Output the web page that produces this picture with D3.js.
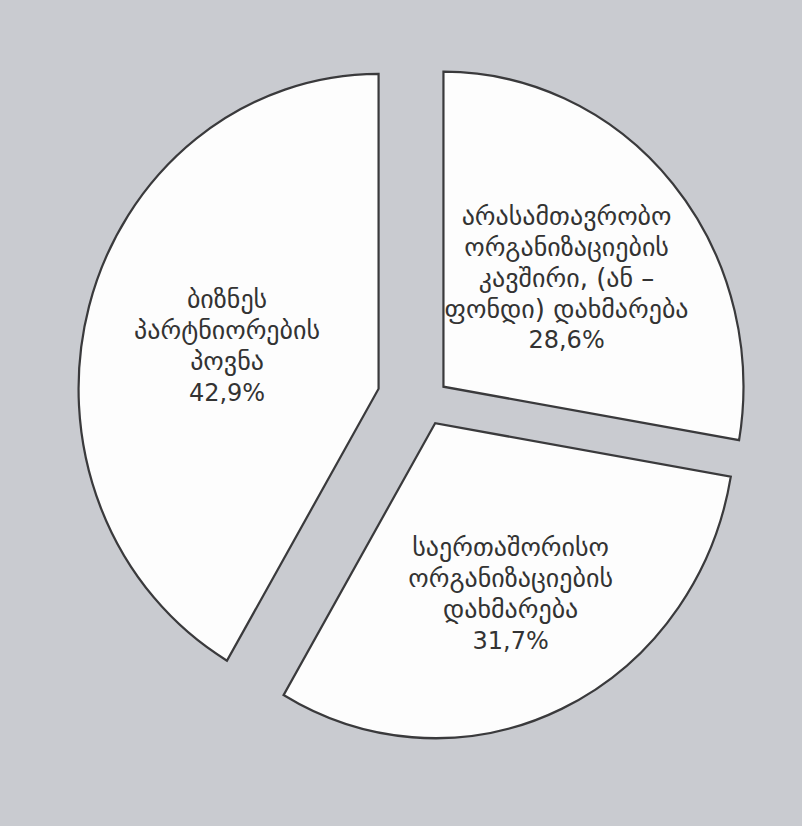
<!DOCTYPE html>
<html>
<head>
<meta charset="utf-8">
<script src="https://cdn.jsdelivr.net/npm/d3@7"></script>
<style>
  html, body { margin: 0; padding: 0; background: #c9cbd0; }
  svg { display: block; }
</style>
</head>
<body>
<svg id="chart" width="802" height="826"></svg>
<script>
// slices, clockwise from 12 o'clock
const categories = [
  ["არასამთავრობო", "ორგანიზაციების", "კავშირი,  (ან –", "ფონდი) დახმარება"],
  ["საერთაშორისო", "ორგანიზაციების", "დახმარება"],
  ["ბიზნეს", "პარტნიორების", "პოვნა"]
];
const values = [28.6, 31.7, 42.9];
const valueLabels = ["28,6%", "31,7%", "42,9%"];

// how far each slice is pulled out, and how far out its label sits
const pullOut = [23, 22, 49];
const labelRadius = [161, 179, 157];

const svg = d3.select("#chart");
const width = +svg.attr("width");
const height = +svg.attr("height");

const radius = 300;
const stretch = 1.05; // the scan is a bit taller than wide
const cx = width * 0.531;
const cy = height * 0.487;

const pie = d3.pie().sort(null).value((d) => d);
const arc = d3.arc().innerRadius(0).outerRadius(radius);

const slices = pie(values);

function pull(d, i) {
  const mid = (d.startAngle + d.endAngle) / 2;
  return [Math.sin(mid) * pullOut[i], -Math.cos(mid) * pullOut[i]];
}

// slices (drawn in a vertically stretched group)
const g = svg.append("g")
  .attr("transform", `translate(${cx},${cy}) scale(1,${stretch})`);

g.selectAll("path")
  .data(slices)
  .enter()
  .append("path")
  .attr("transform", (d, i) => `translate(${pull(d, i)})`)
  .attr("d", arc)
  .attr("fill", "#fdfdfd")
  .attr("stroke", "#3a3a3c")
  .attr("stroke-width", 2.2)
  .attr("stroke-linejoin", "miter");

// labels (unstretched so text keeps its shape)
const lineH = 31;
const tg = svg.append("g").attr("transform", `translate(${cx},${cy})`);

const label = tg.selectAll("text")
  .data(slices)
  .enter()
  .append("text")
  .attr("transform", (d, i) => {
    const [x, y] = d3.arc().innerRadius(labelRadius[i]).outerRadius(labelRadius[i]).centroid(d);
    const [px, py] = pull(d, i);
    return `translate(${x + px},${(y + py) * stretch})`;
  })
  .attr("text-anchor", "middle")
  .attr("fill", "#333")
  .style("font-family", "'DejaVu Sans', sans-serif")
  .style("font-size", "26px");

label.each(function (d, i) {
  const lines = categories[i].concat([valueLabels[i]]);
  const t = d3.select(this);
  const top = -((lines.length - 1) * lineH) / 2;
  lines.forEach((ln, j) => {
    t.append("tspan")
      .attr("x", 0)
      .attr("y", top + j * lineH)
      .attr("dy", "0.35em")
      .style("font-size", j === lines.length - 1 ? "24px" : null)
      .text(ln);
  });
});
</script>
</body>
</html>
